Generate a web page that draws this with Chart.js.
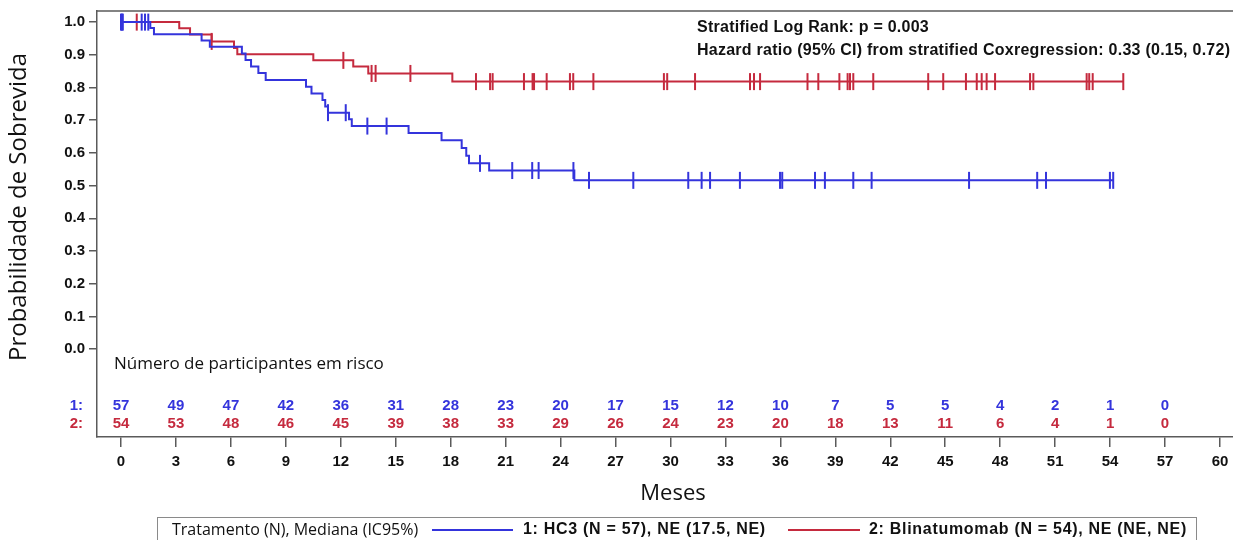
<!DOCTYPE html>
<html lang="pt">
<head>
<meta charset="utf-8">
<title>Sobrevida – HC3 vs Blinatumomab</title>
<script src="https://cdn.jsdelivr.net/npm/chart.js@4.4.1/dist/chart.umd.min.js"></script>
<style>
  html, body { margin: 0; padding: 0; background: #fff; }
  #wrap { width: 1233px; height: 540px; }
</style>
</head>
<body>
<div id="wrap"><canvas id="km" width="1233" height="540"></canvas></div>
<script>
// Kaplan-Meier steps: time (months) and survival after each event
const hc3Times = [0, 1.6, 1.8, 4.4, 4.85, 6.6, 6.8, 7.1, 7.5, 7.9, 10.1, 10.4, 11.0, 11.15, 11.3,
  12.45, 12.6, 15.7, 17.5, 18.6, 18.85, 19.0, 20.1, 24.75, 54.17];
const hc3Surv = [1.0, 0.982, 0.963, 0.944, 0.925, 0.904, 0.884, 0.864, 0.844, 0.823, 0.802, 0.782, 0.762, 0.742, 0.723,
  0.703, 0.682, 0.661, 0.639, 0.615, 0.591, 0.568, 0.546, 0.516, 0.516];
const hc3Censored = [0, 0.05, 0.1, 1.13, 1.31, 1.49, 11.3, 12.27, 13.45, 14.5, 19.6, 21.36, 22.45, 22.8, 24.7,
  25.55, 27.97, 30.97, 31.7, 32.16, 33.79, 35.98, 36.1, 37.89, 38.43, 39.98, 40.98, 46.3, 50.02, 50.5, 53.99, 54.17];

const blinaTimes = [0, 3.18, 3.77, 4.95, 6.17, 6.35, 10.5, 12.68, 13.5, 18.09, 54.72];
const blinaSurv = [1.0, 0.981, 0.962, 0.941, 0.921, 0.902, 0.883, 0.864, 0.843, 0.818, 0.818];
const blinaCensored = [0.86, 4.95, 12.14, 13.68, 13.9, 15.8, 19.38, 20.15, 20.29, 22.0, 22.47, 22.55, 23.24, 24.51, 24.69,
  25.79, 29.64, 29.82, 31.34, 34.34, 34.56, 34.89, 37.48, 38.07, 39.22, 39.67, 39.8, 39.98, 41.07, 44.07, 44.89,
  46.13, 46.72, 46.99, 47.26, 47.72, 49.63, 49.81, 52.72, 52.86, 53.05, 54.72];

// axis ticks and number-at-risk table
const monthTicks = [0, 3, 6, 9, 12, 15, 18, 21, 24, 27, 30, 33, 36, 39, 42, 45, 48, 51, 54, 57, 60];
const probTicks = [0, 0.1, 0.2, 0.3, 0.4, 0.5, 0.6, 0.7, 0.8, 0.9, 1.0];
const riskMonths = [0, 3, 6, 9, 12, 15, 18, 21, 24, 27, 30, 33, 36, 39, 42, 45, 48, 51, 54, 57];
const riskHc3 = [57, 49, 47, 42, 36, 31, 28, 23, 20, 17, 15, 12, 10, 7, 5, 5, 4, 2, 1, 0];
const riskBlina = [54, 53, 48, 46, 45, 39, 38, 33, 29, 26, 24, 23, 20, 18, 13, 11, 6, 4, 1, 0];

const statLines = [
  'Stratified Log Rank: p = 0.003',
  'Hazard ratio (95% CI) from stratified Coxregression: 0.33 (0.15, 0.72)'
];
const legendTitle = 'Tratamento (N), Mediana (IC95%)';
const legendHc3 = '1: HC3 (N = 57), NE (17.5, NE)';
const legendBlina = '2: Blinatumomab (N = 54), NE (NE, NE)';

const BLUE = '#3434dc';
const RED = '#c52a3e';
const AXIS = '#5a5a5a';
const ARIAL = '"Liberation Sans", Arial, sans-serif';
const SANS = '"Open Sans", "Noto Sans", sans-serif';

function curve(times, surv) {
  return times.map((t, i) => ({ x: t, y: surv[i] }));
}

// survival level at time t (last step at or before t)
function levelAt(times, surv, t) {
  let s = surv[0];
  for (let i = 0; i < times.length; i++) {
    if (times[i] <= t) s = surv[i];
  }
  return s;
}

function marks(censored, times, surv) {
  return censored.map(t => ({ x: t, y: levelAt(times, surv, t) }));
}

const kmExtras = {
  id: 'kmExtras',
  afterDraw(chart) {
    const { ctx, chartArea: a } = chart;
    const x = chart.scales.x;
    ctx.save();

    // top frame line
    ctx.strokeStyle = AXIS;
    ctx.lineWidth = 1.5;
    ctx.beginPath();
    ctx.moveTo(a.left, a.top);
    ctx.lineTo(a.right, a.top);
    ctx.stroke();

    // test statistics
    ctx.fillStyle = '#111';
    ctx.font = 'bold 16px ' + ARIAL;
    ctx.letterSpacing = '0.25px';
    ctx.textAlign = 'left';
    ctx.textBaseline = 'middle';
    ctx.fillText(statLines[0], 697, 28);
    ctx.fillText(statLines[1], 697, 51);
    ctx.letterSpacing = '0px';

    // y title
    ctx.save();
    ctx.translate(19, 207);
    ctx.rotate(-Math.PI / 2);
    ctx.textAlign = 'center';
    ctx.font = '24px ' + SANS;
    ctx.fillStyle = '#111';
    ctx.fillText('Probabilidade de Sobrevida', 0, 0);
    ctx.restore();

    // number at risk
    ctx.font = '17px ' + SANS;
    ctx.fillStyle = '#111';
    ctx.textAlign = 'left';
    ctx.fillText('Número de participantes em risco', 114, 364);

    ctx.font = 'bold 15px ' + ARIAL;
    ctx.textAlign = 'right';
    ctx.fillStyle = BLUE;
    ctx.fillText('1:', 83, 406);
    ctx.fillStyle = RED;
    ctx.fillText('2:', 83, 424);
    ctx.textAlign = 'center';
    riskMonths.forEach((m, i) => {
      const px = x.getPixelForValue(m);
      ctx.fillStyle = BLUE;
      ctx.fillText(String(riskHc3[i]), px, 406);
      ctx.fillStyle = RED;
      ctx.fillText(String(riskBlina[i]), px, 424);
    });

    // x title
    ctx.font = '22px ' + SANS;
    ctx.fillStyle = '#111';
    ctx.fillText('Meses', 673, 494);

    // legend box
    ctx.strokeStyle = '#8a8a8a';
    ctx.lineWidth = 1;
    ctx.strokeRect(157.5, 517.5, 1039, 40);
    ctx.textAlign = 'left';
    ctx.font = '16px ' + SANS;
    ctx.fillText(legendTitle, 172, 530);
    ctx.lineWidth = 2;
    ctx.strokeStyle = BLUE;
    ctx.beginPath(); ctx.moveTo(432, 530); ctx.lineTo(513, 530); ctx.stroke();
    ctx.strokeStyle = RED;
    ctx.beginPath(); ctx.moveTo(788, 530); ctx.lineTo(860, 530); ctx.stroke();
    ctx.font = 'bold 16px ' + ARIAL;
    ctx.letterSpacing = '0.7px';
    ctx.fillStyle = '#111';
    ctx.fillText(legendHc3, 523, 530);
    ctx.fillText(legendBlina, 869, 530);
    ctx.letterSpacing = '0px';

    ctx.restore();
  }
};

new Chart(document.getElementById('km'), {
  type: 'line',
  data: {
    datasets: [
      {
        label: 'HC3',
        data: curve(hc3Times, hc3Surv),
        stepped: true,
        borderColor: BLUE,
        borderWidth: 2,
        pointRadius: 0,
        fill: false
      },
      {
        label: 'Blinatumomab',
        data: curve(blinaTimes, blinaSurv),
        stepped: true,
        borderColor: RED,
        borderWidth: 2,
        pointRadius: 0,
        fill: false
      },
      {
        label: 'HC3 censurado',
        data: marks(hc3Censored, hc3Times, hc3Surv),
        showLine: false,
        pointStyle: 'line',
        rotation: 90,
        pointRadius: 8.5,
        pointBorderWidth: 2,
        borderColor: BLUE,
        pointBorderColor: BLUE
      },
      {
        label: 'Blinatumomab censurado',
        data: marks(blinaCensored, blinaTimes, blinaSurv),
        showLine: false,
        pointStyle: 'line',
        rotation: 90,
        pointRadius: 8.5,
        pointBorderWidth: 2,
        borderColor: RED,
        pointBorderColor: RED
      }
    ]
  },
  options: {
    responsive: false,
    animation: false,
    events: [],
    layout: { autoPadding: false, padding: { top: 11, left: 0, right: 0, bottom: 0 } },
    plugins: {
      legend: { display: false },
      tooltip: { enabled: false }
    },
    scales: {
      x: {
        type: 'linear',
        min: -1.31,
        max: 60.71,
        afterBuildTicks: s => { s.ticks = monthTicks.map(v => ({ value: v })); },
        afterFit: s => { s.height = 103; s.paddingLeft = 0; s.paddingRight = 0; },
        ticks: {
          autoSkip: false,
          maxRotation: 0,
          padding: 6,
          color: '#111',
          font: { family: ARIAL, size: 15, weight: 'bold' },
          callback: v => String(v)
        },
        grid: { drawOnChartArea: false, tickLength: 10, color: AXIS, lineWidth: 1.5 },
        border: { color: AXIS, width: 1.5 }
      },
      y: {
        type: 'linear',
        min: -0.269,
        max: 1.034,
        afterBuildTicks: s => { s.ticks = probTicks.map(v => ({ value: v })); },
        afterFit: s => { s.width = 97; s.paddingTop = 0; s.paddingBottom = 0; },
        ticks: {
          autoSkip: false,
          padding: 4,
          color: '#111',
          font: { family: ARIAL, size: 15, weight: 'bold' },
          callback: v => Number(v).toFixed(1)
        },
        grid: { drawOnChartArea: false, tickLength: 8, color: AXIS, lineWidth: 1.5 },
        border: { color: AXIS, width: 1.5 }
      }
    }
  },
  plugins: [kmExtras]
});
</script>
</body>
</html>
